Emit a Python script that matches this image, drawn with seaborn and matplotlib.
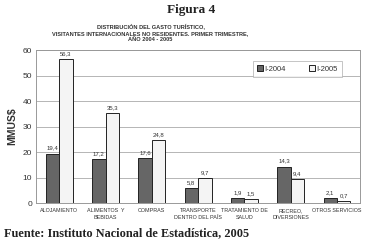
import matplotlib
matplotlib.use("Agg")
import matplotlib.pyplot as plt
import seaborn as sns
import pandas as pd

categories = ["ALOJAMIENTO", "ALIMENTOS  Y\nBEBIDAS", "COMPRAS", "TRANSPORTE\nDENTRO DEL PAÍS",
              "TRATAMIENTO DE\nSALUD", "RECREO,\nDIVERSIONES", "OTROS SERVICIOS"]
series_names = ["I-2004", "I-2005"]
values_2004 = [19.4, 17.2, 17.6, 5.8, 1.9, 14.3, 2.1]
values_2005 = [56.3, 35.3, 24.8, 9.7, 1.5, 9.4, 0.7]
yticks = [0, 10, 20, 30, 40, 50, 60]

df = pd.DataFrame({
    "cat": categories * 2,
    "serie": [series_names[0]] * len(categories) + [series_names[1]] * len(categories),
    "val": values_2004 + values_2005,
})

sns.set_theme(style="white")
plt.rcParams['font.family'] = ['Liberation Sans', 'DejaVu Sans']

fig = plt.figure(figsize=(3.72, 2.44), dpi=100)
ax = fig.add_axes([0.097, 0.168, 0.871, 0.627])

sns.barplot(data=df, x="cat", y="val", hue="serie", order=categories, hue_order=series_names,
            palette={"I-2004": "#666666", "I-2005": "#f4f4f4"}, edgecolor="#222222",
            linewidth=0.7, width=0.58, ax=ax, saturation=1)

ax.set_ylim(0, 60)
ax.set_yticks(yticks)
ax.set_yticklabels([str(t) for t in yticks], fontsize=6, color="#333333")
ax.tick_params(axis="x", labelsize=3.9, length=0, pad=3.5, colors="#333333")
for lbl in ax.get_xticklabels():
    lbl.set_linespacing(1.6)
ax.tick_params(axis="y", length=0, pad=3)
ax.set_xlabel("")
ax.set_ylabel("MMUS$", fontsize=7.5, fontweight="bold", color="#333333", labelpad=4)
ax.grid(axis="y", color="#aaaaaa", linewidth=0.6)
ax.set_axisbelow(True)
for s in ax.spines.values():
    s.set_color("#999999")
    s.set_linewidth(0.7)

for cont in ax.containers:
    labels = [f"{v:.1f}".replace(".", ",") for v in cont.datavalues]
    ax.bar_label(cont, labels=labels, fontsize=4.3, padding=2, color="#333333")

leg = ax.legend(loc="upper right", bbox_to_anchor=(0.955, 0.95), ncol=2, fontsize=5.5,
                frameon=True, fancybox=False, edgecolor="#aaaaaa", handlelength=0.8,
                handleheight=0.8, columnspacing=3, borderpad=0.5, handletextpad=0.2)
leg.get_frame().set_linewidth(0.6)
for t in leg.get_texts():
    t.set_color("#333333")

fig.text(0.515, 0.958, "Figura 4", ha="center", va="center", fontsize=9.5,
         family=["Liberation Serif", "DejaVu Serif"], fontweight="bold", color="#222222")
fig.text(0.405, 0.866, "DISTRIBUCIÓN DEL GASTO TURÍSTICO,\nVISITANTES INTERNACIONALES NO RESIDENTES. PRIMER TRIMESTRE,\nAÑO 2004 - 2005",
         ha="center", va="center", fontsize=4.1, fontweight="bold", color="#333333", linespacing=1.45)
fig.text(0.012, 0.045, "Fuente: Instituto Nacional de Estadística, 2005", ha="left", va="center",
         fontsize=8.8, family=["Liberation Serif", "DejaVu Serif"], fontweight="bold", color="#222222")

fig.savefig("out.png", dpi=100)
